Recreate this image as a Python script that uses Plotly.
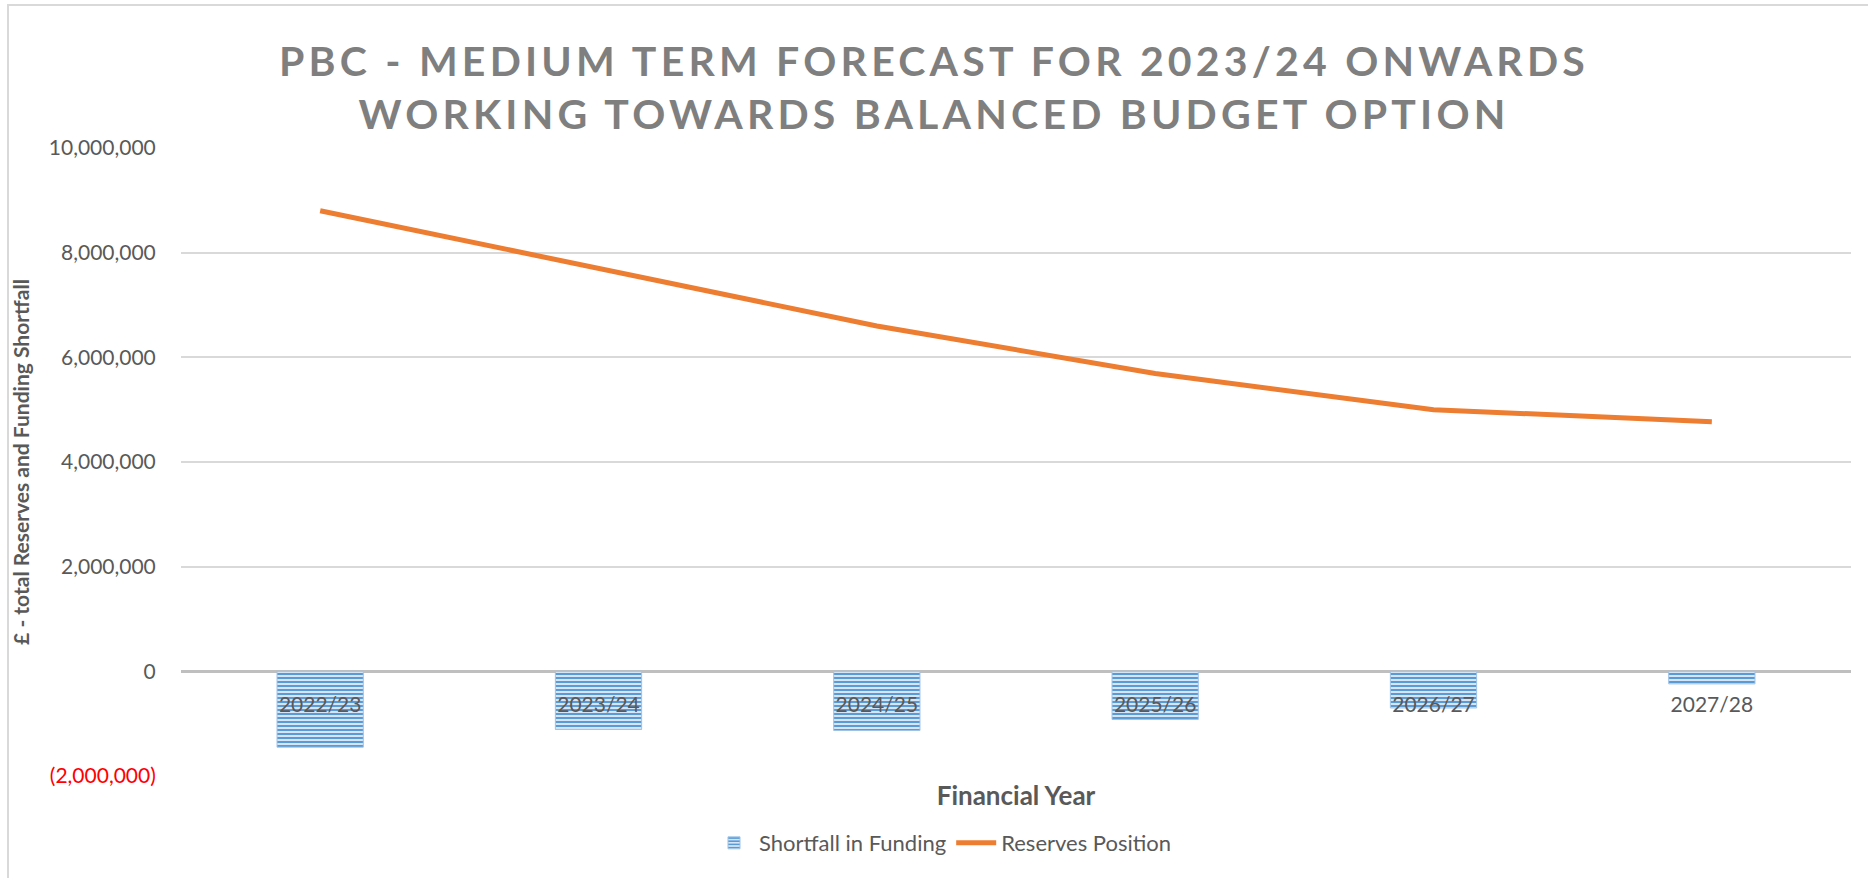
import plotly.graph_objects as go

# ---- data ----
categories = ["2022/23", "2023/24", "2024/25", "2025/26", "2026/27", "2027/28"]
shortfall = [-1450000, -1110000, -1130000, -920000, -700000, -240000]
reserves = [8800000, 7690000, 6600000, 5690000, 5000000, 4770000]
y_ticks = [-2000000, 0, 2000000, 4000000, 6000000, 8000000, 10000000]

title_text = "PBC - MEDIUM TERM FORECAST FOR 2023/24 ONWARDS<br>WORKING TOWARDS BALANCED BUDGET OPTION"
y_title = "£ - total Reserves and Funding Shortfall"
x_title = "Financial Year"
series_names = ["Shortfall in Funding", "Reserves Position"]

# ---- layout constants ----
W, H = 1868, 878
ML, MR, MT, MB = 181, 17, 148, 102
PW, PH = W - ML - MR, H - MT - MB
Y_MIN, Y_MAX = y_ticks[0], y_ticks[-1]
FONT = "Lato, 'Open Sans', sans-serif"
GREY = "#595959"


def fmt(v):
    if v < 0:
        return "<span style='color:#ff0000'>({:,})</span>".format(-v)
    return "{:,}".format(v)


tick_text = [fmt(v) for v in y_ticks]

fig = go.Figure()
fig.add_trace(go.Bar(
    x=categories, y=shortfall, name=series_names[0],
    marker=dict(color="#5b9bd5",
                line=dict(color="#9dc3e6", width=1),
                pattern=dict(shape="-", fgcolor="#5b9bd5", bgcolor="#d5e5f5",
                             size=4, solidity=0.5, fillmode="replace")),
))
fig.add_trace(go.Scatter(
    x=categories, y=reserves, name=series_names[1], mode="lines",
    line=dict(color="#ed7d31", width=5),
))

zero_pos = (0 - Y_MIN) / (Y_MAX - Y_MIN)


def px_x(p):
    return (p - ML) / PW


def px_y(p):
    return (H - MB - p) / PH


fig.update_layout(
    width=W, height=H,
    margin=dict(l=ML, r=MR, t=MT, b=MB, pad=0),
    paper_bgcolor="white", plot_bgcolor="white",
    font=dict(family=FONT, color=GREY, size=21),
    title=dict(text=title_text, x=0.5, xref="container", xanchor="center",
               y=1 - 76 / H, yref="container", yanchor="middle",
               font=dict(family=FONT, size=41, color="#7f7f7f", weight="bold")),
    bargap=0.69,
    showlegend=True,
    legend=dict(orientation="h", x=px_x(943), xanchor="center",
                y=px_y(843), yanchor="middle",
                font=dict(size=22, color=GREY), itemwidth=40,
                bgcolor="rgba(0,0,0,0)"),
    xaxis=dict(type="category", anchor="free", position=zero_pos,
               showgrid=False, showline=False, zeroline=False,
               ticks="outside", ticklen=14, tickcolor="rgba(0,0,0,0)",
               tickfont=dict(size=21, color=GREY),
               title=dict(text=x_title, standoff=72,
                          font=dict(size=26, color=GREY, weight="bold"))),
    yaxis=dict(range=[Y_MIN, Y_MAX], tickvals=y_ticks, ticktext=tick_text,
               showgrid=True, gridcolor="#d9d9d9", gridwidth=1.5,
               zeroline=True, zerolinecolor="#bfbfbf", zerolinewidth=3,
               showline=False,
               ticks="outside", ticklen=20, tickcolor="rgba(0,0,0,0)",
               tickfont=dict(size=21, color=GREY),
               title=dict(text=y_title, standoff=13,
                          font=dict(size=21, color=GREY, weight="bold"))),
    shapes=[dict(type="rect", xref="paper", yref="paper",
                 x0=px_x(8), x1=px_x(W + 20), y0=px_y(H + 20), y1=px_y(5),
                 line=dict(color="#d9d9d9", width=2), layer="below")],
)

post = ("document.querySelectorAll('.gtitle').forEach(function(e){"
        "e.style.letterSpacing='4.2px';});")
fig.write_html("out.html", config={"displayModeBar": False}, post_script=post)
